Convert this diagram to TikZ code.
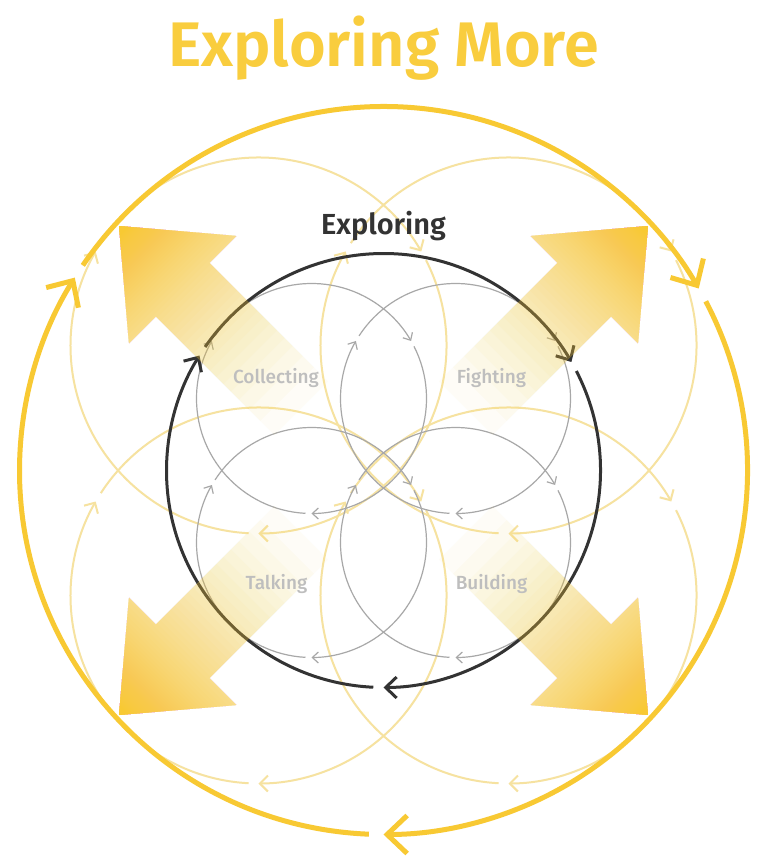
\documentclass[tikz,border=0pt]{standalone}
\usepackage{fontspec}
\setmainfont{Fira Sans}
\newfontfamily\semibfont{Fira Sans SemiBold}
\newfontfamily\mediumfont{Fira Sans Medium}
\usetikzlibrary{arrows.meta,calc}
\definecolor{gold}{HTML}{F8C933}
\definecolor{titlegold}{HTML}{F9CD3E}
\definecolor{paleyellow}{HTML}{F6E2A0}
\definecolor{ringgray}{HTML}{A8A8A8}
\definecolor{darkring}{HTML}{333333}
\definecolor{labelgray}{HTML}{BEBEBE}
\tikzset{
  bigring/.style={draw=gold, line width=5pt, -{Straight Barb[length=20pt,width=38pt]}},
  darkringstyle/.style={draw=darkring, line width=3pt, -{Straight Barb[length=11pt,width=21pt]}},
  grayring/.style={draw=ringgray, line width=1.2pt, -{Straight Barb[length=6pt,width=11pt]}},
  paleringstyle/.style={draw=paleyellow, line width=2pt, -{Straight Barb[length=8pt,width=16pt]}},
  fadelayer/.style={fill=gold, fill opacity=0.04},
  steplabel/.style={text=labelgray, font=\fontsize{19}{19}\selectfont\mediumfont, anchor=base},
}
% centre, radius, style, gap, left tip angle
\newcommand\cyclering[5]{%
  \foreach \s/\e in {#5/30, 30/-90, -90/#5-360}
    \draw[#3] ([shift={(\s-#4:#2)}]#1) arc[start angle=\s-#4, end angle=\e, radius=#2];
}
\newcommand\blockarr[3]{% tip, axis angle, perp angle
  \begin{scope}
    \clip (#1) -- ($(#1)+(#2:90)+(#3:76)$) -- ($(#1)+(#2:90)+(#3:38)$)
      -- ($(#1)+(#2:270)+(#3:38)$) -- ($(#1)+(#2:270)+(#3:-38)$)
      -- ($(#1)+(#2:90)+(#3:-38)$) -- ($(#1)+(#2:90)+(#3:-76)$) -- cycle;
    \foreach \j in {1,...,86} {
      \pgfmathsetmacro\op{1-0.96^(\j-0.5)}
      \pgfmathsetmacro\v{275*(1-(min(\op/0.97,1))^(0.7142857))}
      \fill[fadelayer] ($(#1)+(#2:-10)+(#3:100)$) -- ($(#1)+(#2:\v)+(#3:100)$)
        -- ($(#1)+(#2:\v)+(#3:-100)$) -- ($(#1)+(#2:-10)+(#3:-100)$) -- cycle;
    }
  \end{scope}
}
\begin{document}
\begin{tikzpicture}[x=1pt,y=1pt]
\useasboundingbox (-383.5,-394.5) rectangle (382.5,470.5);
\fill[white] (-383.5,-394.5) rectangle (382.5,470.5);

\coordinate (O) at (0,0);
\coordinate (g1) at (-72,72);
\coordinate (g2) at (72,72);
\coordinate (g3) at (-72,-72);
\coordinate (g4) at (72,-72);
\coordinate (y1) at (-125,125);
\coordinate (y2) at (125,125);
\coordinate (y3) at (-125,-125);
\coordinate (y4) at (125,-125);
\coordinate (t1) at (-264.5,244.5);
\coordinate (t2) at (264.5,244.5);
\coordinate (t3) at (-264.5,-244.5);
\coordinate (t4) at (264.5,-244.5);

% pale yellow rings
\cyclering{y1}{188}{paleringstyle}{3}{150}
\cyclering{y2}{188}{paleringstyle}{3}{150}
\cyclering{y3}{188}{paleringstyle}{3}{150}
\cyclering{y4}{188}{paleringstyle}{3}{150}

% gray rings
\cyclering{g1}{115}{grayring}{3}{150}
\cyclering{g2}{115}{grayring}{3}{150}
\cyclering{g3}{115}{grayring}{3}{150}
\cyclering{g4}{115}{grayring}{3}{150}

% dark ring
\cyclering{O}{217}{darkringstyle}{2.7}{148}

% big ring
\cyclering{O}{364}{bigring}{2.3}{148}

% block arrows
\blockarr{t1}{-45}{45}
\blockarr{t2}{-135}{-45}
\blockarr{t3}{45}{135}
\blockarr{t4}{135}{45}

% labels
\node[steplabel] (collecting) at (-107.5,86.5) {Collecting};
\node[steplabel] (fighting) at (108,86.5) {Fighting};
\node[steplabel] (talking) at (-107,-118.8) {Talking};
\node[steplabel] (building) at (108,-118.8) {Building};

\node[anchor=base, text=darkring, font=\fontsize{29}{29}\selectfont\semibfont] (exploring) at (0,235.5) {Exploring};
\node[anchor=base, text=titlegold, font=\fontsize{63}{63}\selectfont\semibfont] (title) at (0,403.5) {Exploring More};
\end{tikzpicture}
\end{document}
